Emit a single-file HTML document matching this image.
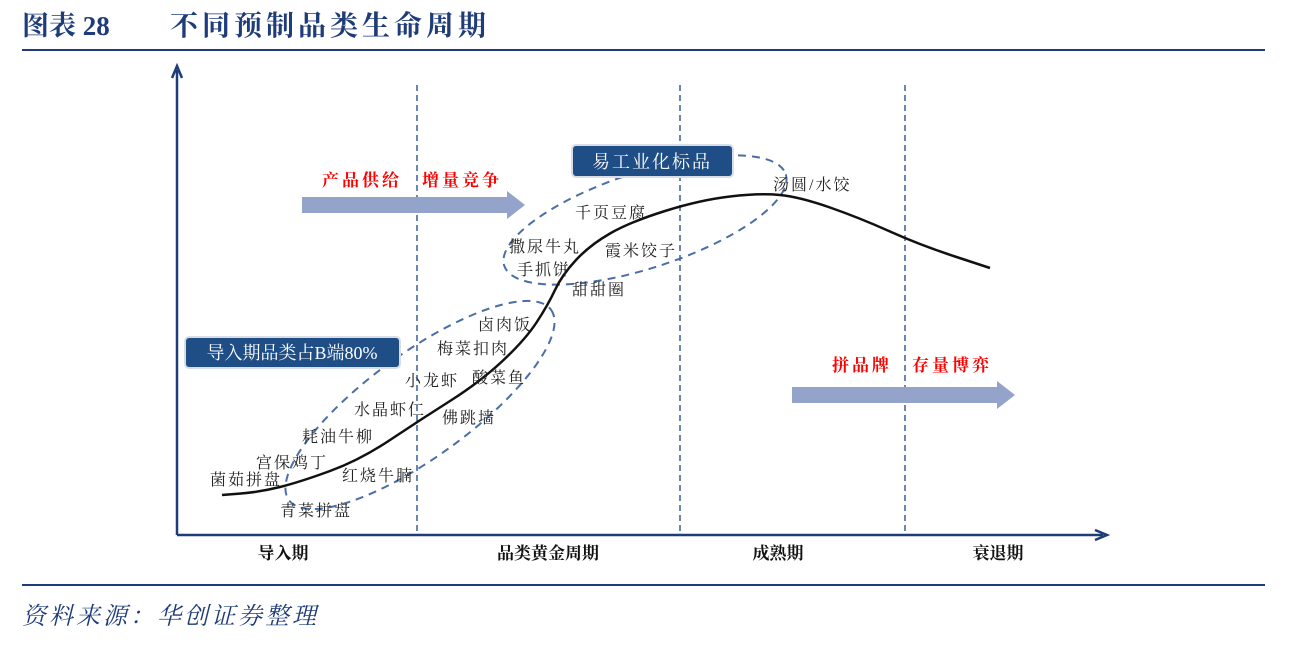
<!DOCTYPE html>
<html><head><meta charset="utf-8"><style>
body{margin:0;background:#fff;}
svg text{font-family:"Liberation Serif","Noto Serif CJK SC",serif;}
</style></head><body>
<svg width="1293" height="642" viewBox="0 0 1293 642">
<text x="22" y="35" font-size="27" font-weight="bold" fill="#1f3c7a">图表 28</text>
<text x="170" y="35" font-size="28" font-weight="bold" fill="#1f3c7a" letter-spacing="4">不同预制品类生命周期</text>
<line x1="22" y1="50" x2="1265" y2="50" stroke="#1f3c7a" stroke-width="2"/>
<line x1="22" y1="585" x2="1265" y2="585" stroke="#1f3c7a" stroke-width="2"/>
<text x="22" y="624" font-size="24" font-style="italic" letter-spacing="3" fill="#1f3c7a">资料来源：华创证券整理</text>
<g id="chart"></g>
</svg>
<script>
const stages=["导入期","品类黄金周期","成熟期","衰退期"];
const stageX=[283,548,778,998];
const dividers=[417,680,905];
const curveX=[222,260,300,360,420,480,525,548,562,590,630,700,760,800,860,920,990];
const curveY=[495,492,482,460,420,382,340,305,275,245,222,200,193,197,218,245,268];
const items=[["菌茹拼盘",210,485],["宫保鸡丁",256,468],["青菜拼盘",280,516],["耗油牛柳",302,442],["红烧牛腩",342,481],["水晶虾仁",354,415],["小龙虾",405,386],["佛跳墙",442,423],["酸菜鱼",472,383],["梅菜扣肉",437,354],["卤肉饭",478,330],["撒尿牛丸",509,252],["手抓饼",517,275],["甜甜圈",572,295],["霞米饺子",605,256],["千页豆腐",575,218],["汤圆/水饺",773,190]];
const NS="http://www.w3.org/2000/svg";
const g=document.getElementById('chart');
function mk(t,a,txt){const e=document.createElementNS(NS,t);for(const k in a)e.setAttribute(k,a[k]);if(txt)e.textContent=txt;g.appendChild(e);return e;}
let e;
e=mk('path',{d:'M177,535 L177,70 M172,78 L177,66 L182,78',stroke:'#1f3c7a','stroke-width':2.5,fill:'none'});


e=mk('path',{d:'M177,535 L1103,535 M1095,530 L1107,535 L1095,540',stroke:'#1f3c7a','stroke-width':2.5,fill:'none'});


dividers.forEach(x=>{e=mk('line',{x1:x,y1:85,x2:x,y2:535,stroke:'#3a5f95','stroke-width':1.5,'stroke-dasharray':'6,4'});

});
stages.forEach((s,i)=>{e=mk('text',{x:stageX[i],y:559,'font-size':17,'font-weight':'bold','text-anchor':'middle',fill:'#111'},s);

});
e=mk('ellipse',{cx:420,cy:405,rx:162,ry:52,transform:'rotate(-36 420 405)',fill:'none',stroke:'#4a6ea6','stroke-width':2,'stroke-dasharray':'8,6'});


e=mk('ellipse',{cx:645,cy:220,rx:148,ry:48,transform:'rotate(-18 645 220)',fill:'none',stroke:'#4a6ea6','stroke-width':2,'stroke-dasharray':'8,6'});


let d='M'+curveX[0]+','+curveY[0];
for(let i=1;i<curveX.length;i++){const mx=(curveX[i-1]+curveX[i])/2,my=(curveY[i-1]+curveY[i])/2;d+=' Q'+curveX[i-1]+','+curveY[i-1]+' '+mx+','+my;}
d+=' L'+curveX[curveX.length-1]+','+curveY[curveY.length-1];
e=mk('path',{d:d,stroke:'#111','stroke-width':2.5,fill:'none'});


items.forEach(it=>{e=mk('text',{x:it[1],y:it[2],'font-size':16,'letter-spacing':2,fill:'#222'},it[0]);

});
[[302,525,205],[792,1015,395]].forEach(a=>{e=mk('path',{d:`M${a[0]},${a[2]-8} L${a[1]-18},${a[2]-8} L${a[1]-18},${a[2]-14} L${a[1]},${a[2]} L${a[1]-18},${a[2]+14} L${a[1]-18},${a[2]+8} L${a[0]},${a[2]+8}Z`,fill:'#94a3c9'});

});
e=mk('text',{x:322,y:186,'font-size':17,'font-weight':'bold','letter-spacing':3,fill:'#f00'},'产品供给　增量竞争');


e=mk('text',{x:832,y:371,'font-size':17,'font-weight':'bold','letter-spacing':3,fill:'#f00'},'拼品牌　存量博弈');


e=mk('rect',{x:185,y:337,width:215,height:31,rx:4,fill:'#1f4e86',stroke:'#d9dde5','stroke-width':2});


e=mk('text',{x:292,y:359,'font-size':18,'text-anchor':'middle',fill:'#fff'},'导入期品类占B端80%');


e=mk('rect',{x:572,y:145,width:161,height:32,rx:4,fill:'#1f4e86',stroke:'#d9dde5','stroke-width':2});


e=mk('text',{x:652,y:168,'font-size':18,'letter-spacing':2,'text-anchor':'middle',fill:'#fff'},'易工业化标品');


</script>
</body></html>
